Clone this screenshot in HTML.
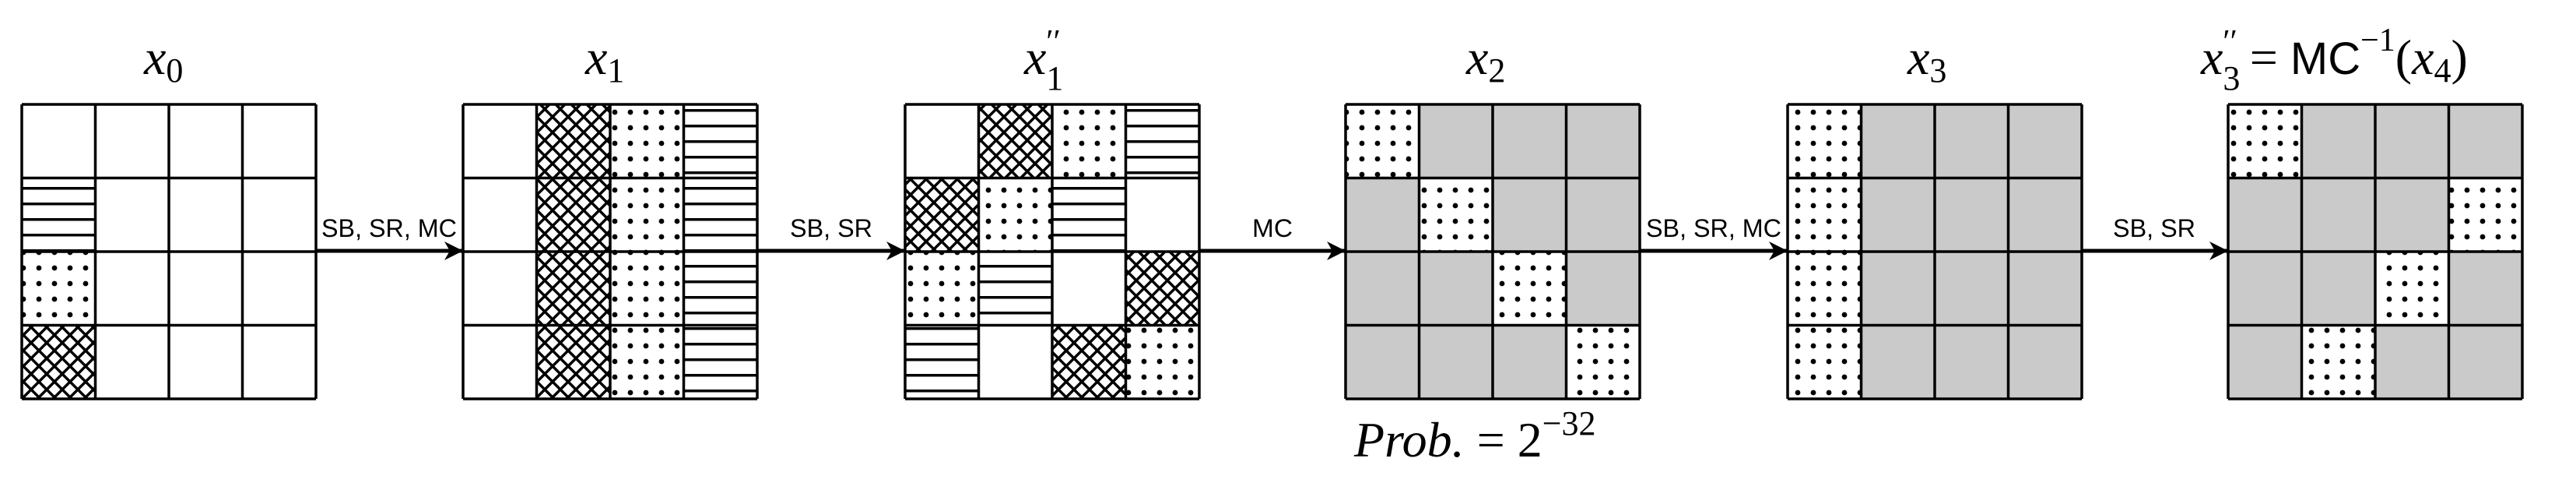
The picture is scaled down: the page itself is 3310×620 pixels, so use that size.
<!DOCTYPE html>
<html><head><meta charset="utf-8"><style>
html,body{margin:0;padding:0;background:#fff;}
svg{display:block;}
.t{font-family:"Liberation Serif",serif;font-style:italic;font-size:64px;}
.l{font-family:"Liberation Sans",sans-serif;font-size:32px;}
</style></head><body>
<svg width="3310" height="620" viewBox="0 0 3310 620" xmlns="http://www.w3.org/2000/svg">
<defs>
<pattern id="hl" patternUnits="userSpaceOnUse" width="20" height="20" y="134">
<rect x="0" y="6" width="20" height="3.5" fill="#000"/>
</pattern>
<pattern id="dt" patternUnits="userSpaceOnUse" width="20" height="20" x="0" y="134">
<circle cx="10" cy="10" r="3.4" fill="#000"/>
</pattern>
<pattern id="cx" patternUnits="userSpaceOnUse" width="20" height="20">
<path d="M-5,-5 L25,25 M-5,25 L25,-5 M-5,15 L5,25 M15,-5 L25,5 M-5,5 L5,-5 M15,25 L25,15" stroke="#000" stroke-width="3.5"/>
</pattern>
<marker id="ah" markerWidth="30" markerHeight="30" refX="24" refY="12" orient="auto" markerUnits="userSpaceOnUse">
<path d="M0,0 L24,12 L0,24 L7,12 Z" fill="#000"/>
</marker>
</defs>
<g id="grids"></g>
<g stroke="#000" stroke-width="5" fill="none">
<line x1="405" y1="322" x2="595" y2="322" marker-end="url(#ah)"/>
<line x1="973" y1="322" x2="1163" y2="322" marker-end="url(#ah)"/>
<line x1="1541" y1="322" x2="1729" y2="322" marker-end="url(#ah)"/>
<line x1="2108" y1="322" x2="2297" y2="322" marker-end="url(#ah)"/>
<line x1="2674" y1="322" x2="2863" y2="322" marker-end="url(#ah)"/>
</g>
<g class="l" text-anchor="middle">
<text x="500" y="304" textLength="174" lengthAdjust="spacingAndGlyphs">SB, SR, MC</text>
<text x="1068" y="304" textLength="106" lengthAdjust="spacingAndGlyphs">SB, SR</text>
<text x="1635" y="304" textLength="52" lengthAdjust="spacingAndGlyphs">MC</text>
<text x="2202" y="304" textLength="174" lengthAdjust="spacingAndGlyphs">SB, SR, MC</text>
<text x="2768" y="304" textLength="106" lengthAdjust="spacingAndGlyphs">SB, SR</text>
</g>
<g class="t">
<text x="185" y="95">x<tspan font-style="normal" font-size="44" dy="10">0</tspan></text>
<text x="752" y="95">x<tspan font-style="normal" font-size="44" dy="10">1</tspan></text>
<text x="1316" y="95">x<tspan font-style="normal" font-size="44" dy="20">1</tspan><tspan font-style="normal" font-size="42" dx="-22" dy="-48">′′</tspan></text>
<text x="1884" y="95">x<tspan font-style="normal" font-size="44" dy="10">2</tspan></text>
<text x="2451" y="95">x<tspan font-style="normal" font-size="44" dy="10">3</tspan></text>
<text x="2828" y="95">x<tspan font-style="normal" font-size="44" dy="20">3</tspan><tspan font-style="normal" font-size="42" dx="-22" dy="-48">′′</tspan><tspan font-style="normal" dy="28"> = </tspan><tspan font-style="normal" font-family="Liberation Sans" font-size="58">MC</tspan><tspan font-style="normal" font-size="42" dy="-30">−1</tspan><tspan font-style="normal" dy="30">(</tspan>x<tspan font-style="normal" font-size="44" dy="10">4</tspan><tspan font-style="normal" dy="-10">)</tspan></text>
<text x="1740" y="586" font-size="64">Prob.<tspan font-style="normal"> = 2</tspan><tspan font-style="normal" font-size="44" dy="-28">−32</tspan></text>
</g>
</svg>
<script>
const grids=[
 {x:28, c:[['n','n','n','n'],['h','n','n','n'],['d','n','n','n'],['x','n','n','n']]},
 {x:595,c:[['n','x','d','h'],['n','x','d','h'],['n','x','d','h'],['n','x','d','h']]},
 {x:1163,c:[['n','x','d','h'],['x','d','h','n'],['d','h','n','x'],['h','n','x','d']]},
 {x:1729,c:[['d','g','g','g'],['g','d','g','g'],['g','g','d','g'],['g','g','g','d']]},
 {x:2297,c:[['d','g','g','g'],['d','g','g','g'],['d','g','g','g'],['d','g','g','g']]},
 {x:2863,c:[['d','g','g','g'],['g','g','g','d'],['g','g','d','g'],['g','d','g','g']]}
];
const fills={n:'#fff',g:'#cacaca',h:'url(#hl)',d:'url(#dt)',x:'url(#cx)'};
let s='';const W=94.5,Y=134;
for(const g of grids){
 for(let r=0;r<4;r++)for(let c=0;c<4;c++){
  const t=g.c[r][c],x=g.x+c*W,y=Y+r*W;
  s+=`<rect x="${x}" y="${y}" width="${W}" height="${W}" fill="#fff"/>`;
  s+=`<rect x="${x}" y="${y}" width="${W}" height="${W}" fill="${fills[t]}"/>`;
 }
 for(let i=0;i<=4;i++){
  s+=`<line x1="${g.x}" y1="${Y+i*W}" x2="${g.x+4*W}" y2="${Y+i*W}" stroke="#000" stroke-width="3.5"/>`;
  s+=`<line x1="${g.x+i*W}" y1="${Y}" x2="${g.x+i*W}" y2="${Y+4*W}" stroke="#000" stroke-width="3.5"/>`;
 }
}
document.getElementById('grids').innerHTML=s;
</script>
</body></html>
